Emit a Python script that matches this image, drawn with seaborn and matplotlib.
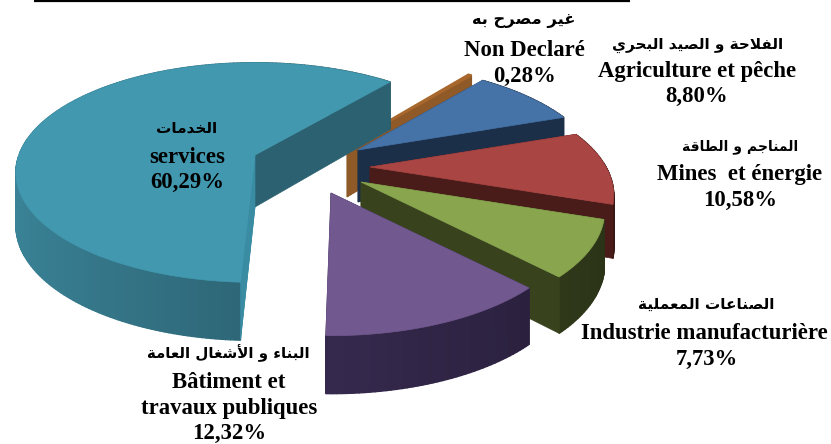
import numpy as np
import matplotlib
matplotlib.use('Agg')
import matplotlib.pyplot as plt
import seaborn as sns

# ==========================================
# 1. DATA
# ==========================================
sectors_fr = ['Non Declaré', 'Agriculture et pêche', 'Mines  et énergie',
              'Industrie manufacturière', 'Bâtiment et travaux publiques', 'services']
sectors_ar = ['غير مصرح به', 'الفلاحة و الصيد البحري', 'المناجم و الطاقة',
              'الصناعات المعملية', 'البناء و الأشغال العامة', 'الخدمات']
shares = [0.28, 8.80, 10.58, 7.73, 12.32, 60.29]

# ==========================================
# 2. STYLE
# ==========================================
top_colors = ['#A8672C', '#4572A7', '#A94543', '#89A54E', '#71588F', '#4198AF']
side_colors = ['#8F5A28', '#1C2F49', '#4A1C19', '#38431E', '#33274A', '#2B6170']
# inner cut face of the services slice is only slightly darker than its top
services_cut = '#3A8CA3'

# where the tip of each exploded slice sits (pixels of the canvas)
tip_x = [347, 358, 370, 361, 331, 255]
tip_y = [145, 150, 167, 182, 193, 155]
# the big slice is pushed far away from the camera axis, so it looks turned and flatter
angle_shift = [0, 0, 0, 0, 0, -2]
persp = [0.25, 0.25, 0.25, 0.25, 0.25, 0.16]

START_ANGLE = 52
RX, RY = 236, 107
DEPTH = 52

sns.set_theme(style='white')
serif = 'Liberation Serif'
arab = 'DejaVu Sans'

# ==========================================
# 3. ARABIC SHAPING (matplotlib does not join letters by itself)
# ==========================================
FORMS = {
    'ء': (0xFE80,),
    'أ': (0xFE83, 0xFE84), 'ا': (0xFE8D, 0xFE8E), 'د': (0xFEA9, 0xFEAA),
    'ر': (0xFEAD, 0xFEAE), 'و': (0xFEED, 0xFEEE), 'ة': (0xFE93, 0xFE94),
    'ب': (0xFE8F, 0xFE90, 0xFE91, 0xFE92), 'ت': (0xFE95, 0xFE96, 0xFE97, 0xFE98),
    'ج': (0xFE9D, 0xFE9E, 0xFE9F, 0xFEA0), 'ح': (0xFEA1, 0xFEA2, 0xFEA3, 0xFEA4),
    'خ': (0xFEA5, 0xFEA6, 0xFEA7, 0xFEA8), 'ش': (0xFEB5, 0xFEB6, 0xFEB7, 0xFEB8),
    'ص': (0xFEB9, 0xFEBA, 0xFEBB, 0xFEBC), 'ط': (0xFEC1, 0xFEC2, 0xFEC3, 0xFEC4),
    'ع': (0xFEC9, 0xFECA, 0xFECB, 0xFECC), 'غ': (0xFECD, 0xFECE, 0xFECF, 0xFED0),
    'ف': (0xFED1, 0xFED2, 0xFED3, 0xFED4), 'ق': (0xFED5, 0xFED6, 0xFED7, 0xFED8),
    'ل': (0xFEDD, 0xFEDE, 0xFEDF, 0xFEE0), 'م': (0xFEE1, 0xFEE2, 0xFEE3, 0xFEE4),
    'ن': (0xFEE5, 0xFEE6, 0xFEE7, 0xFEE8), 'ه': (0xFEE9, 0xFEEA, 0xFEEB, 0xFEEC),
    'ي': (0xFEF1, 0xFEF2, 0xFEF3, 0xFEF4),
}
LAM_ALEF = {'ا': (0xFEFB, 0xFEFC), 'أ': (0xFEF7, 0xFEF8)}


def shape_ar(text):
    out = []
    i = 0
    while i < len(text):
        c = text[i]
        if c not in FORMS:
            out.append(c)
            i += 1
            continue
        prev = text[i - 1] if i > 0 else ' '
        joins_prev = len(FORMS.get(prev, ())) == 4
        nxt = text[i + 1] if i + 1 < len(text) else ' '
        if c == 'ل' and nxt in LAM_ALEF:
            out.append(chr(LAM_ALEF[nxt][1 if joins_prev else 0]))
            i += 2
            continue
        forms = FORMS[c]
        joins_next = nxt in FORMS and nxt != 'ء' and len(forms) == 4
        if len(forms) == 1:
            out.append(chr(forms[0]))
        elif len(forms) == 2:
            out.append(chr(forms[1 if joins_prev else 0]))
        else:
            idx = {(False, False): 0, (True, False): 1,
                   (False, True): 2, (True, True): 3}[(joins_prev, joins_next)]
            out.append(chr(forms[idx]))
        i += 1
    return ''.join(reversed(out))


# ==========================================
# 4. DRAW THE 3D EXPLODED PIE
# ==========================================
def project(deg, tx, ty, p):
    rad = np.radians(deg)
    w = 1 + p * np.sin(rad)
    return tx + RX * np.cos(rad) / w, ty - RY * np.sin(rad) / w


def depth_at(deg):
    return DEPTH - 6 * np.sin(np.radians(deg))


def shade(color, factor):
    rgb = np.array(matplotlib.colors.to_rgb(color)) * factor
    return tuple(np.clip(rgb, 0, 1))


fig = plt.figure(figsize=(8.31, 4.44), dpi=100)
ax = fig.add_axes([0, 0, 1, 1])
ax.set_xlim(0, 831)
ax.set_ylim(444, 0)
ax.axis('off')

ax.plot([34, 630], [1, 1], color='black', lw=1.6, solid_capstyle='butt')

edges = START_ANGLE - np.cumsum([0] + shares) * 3.6
for i in [5, 0, 1, 2, 3, 4]:
    t1, t2 = edges[i] + angle_shift[i], edges[i + 1] + angle_shift[i]
    tx, ty = tip_x[i], tip_y[i]
    top, side = top_colors[i], side_colors[i]
    angles = np.linspace(t1, t2, max(int(abs(t1 - t2)), 2) + 1)
    ax_, ay_ = project(angles, tx, ty, persp[i])

    # cut face on the start side of the slice
    start_color = services_cut if i == 5 else side
    ax.fill([tx, ax_[0], ax_[0], tx],
            [ty, ay_[0], ay_[0] + depth_at(t1), ty + DEPTH],
            color=start_color, lw=0.5, zorder=i + 1)
    # rim, a little lighter towards the left
    for k in range(len(angles) - 1):
        xs = [ax_[k], ax_[k + 1], ax_[k + 1], ax_[k]]
        ys = [ay_[k], ay_[k + 1], ay_[k + 1] + depth_at(angles[k + 1]),
              ay_[k] + depth_at(angles[k])]
        f = 1.05 - 0.3 * np.cos(np.radians(angles[k]))
        ax.fill(xs, ys, color=shade(side, f), lw=1.0, zorder=i + 1)
    # cut face on the end side
    ax.fill([tx, ax_[-1], ax_[-1], tx],
            [ty, ay_[-1], ay_[-1] + depth_at(t2), ty + DEPTH],
            color=side, lw=0.5, zorder=i + 1.2)
    # services: inner cut face sits over the rim
    if i == 5:
        ax.fill([tx, ax_[0], ax_[0], tx],
                [ty, ay_[0], ay_[0] + depth_at(t1), ty + DEPTH],
                color=start_color, lw=0.5, zorder=i + 1.2)
    # top of the slice
    ax.fill(np.r_[tx, ax_], np.r_[ty, ay_], color=top, lw=1.5 if i == 0 else 0.5,
            zorder=i + 1.5)

# ==========================================
# 5. LABELS
# ==========================================
label_lines = [
    [(sectors_ar[0], 524, 20, 11.7), (sectors_fr[0], 524.5, 50, 16.4), ('0,28%', 524.5, 76, 16.4)],
    [(sectors_ar[1], 698, 45, 11), (sectors_fr[1], 697.5, 71, 16.4), ('8,80%', 697, 96, 16.4)],
    [(sectors_ar[2], 740, 147, 10), (sectors_fr[2], 740, 174, 16.4), ('10,58%', 740, 200, 16.4)],
    [(sectors_ar[3], 706, 304, 11), (sectors_fr[3], 704.5, 333, 16.4), ('7,73%', 707, 359, 16.4)],
    [(sectors_ar[4], 228, 353, 10.8), ('Bâtiment et', 229, 382, 16.4),
     ('travaux publiques', 229.5, 408, 16.4), ('12,32%', 229, 433, 16.4)],
    [(sectors_ar[5], 187, 128, 11), (sectors_fr[5], 187.5, 157, 16.4), ('60,29%', 187, 182, 16.4)],
]
for group in label_lines:
    for line, x, y, size in group:
        if line[0] in FORMS:
            ax.text(x, y, shape_ar(line), family=arab, weight='bold', fontsize=size,
                    ha='center', va='center', color='black', zorder=20)
        else:
            ax.text(x, y, line, family=serif, weight='bold', fontsize=size,
                    ha='center', va='center', color='black', zorder=20)

fig.savefig('out.png', dpi=100)
